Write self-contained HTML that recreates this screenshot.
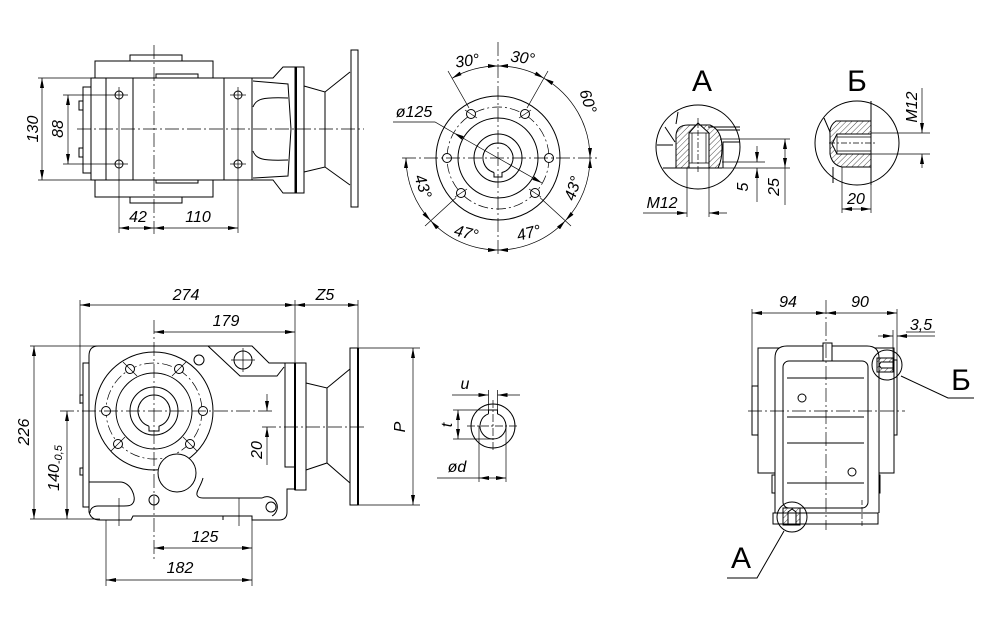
<!DOCTYPE html>
<html><head><meta charset="utf-8"><style>
html,body{margin:0;padding:0;background:#fff;}
svg{display:block;}
.t{font-family:"Liberation Sans",sans-serif;font-style:italic;font-size:16px;text-anchor:middle;fill:#000;}
.L{font-family:"Liberation Sans","DejaVu Sans",sans-serif;font-size:30px;text-anchor:middle;fill:#000;}
</style></head><body>
<svg width="990" height="624" viewBox="0 0 990 624" xmlns="http://www.w3.org/2000/svg">
<defs>
<marker id="a" viewBox="0 0 10 4" refX="10" refY="2" markerWidth="10" markerHeight="4" markerUnits="userSpaceOnUse" orient="auto-start-reverse"><path d="M0,0 L10,2 L0,4z" fill="#000"/></marker>
<pattern id="h" width="4" height="4" patternUnits="userSpaceOnUse" patternTransform="rotate(45)"><line x1="0" y1="0" x2="0" y2="4" stroke="#000" stroke-width="0.7"/></pattern>
</defs>
<rect width="990" height="624" fill="#fff"/>
<g fill="none" stroke="#000" stroke-width="1">

<!-- ============ TOP-LEFT VIEW ============ -->
<rect x="95" y="61" width="118" height="136"/>
<rect x="130" y="55" width="52" height="6"/>
<rect x="130" y="197" width="52" height="6"/>
<rect x="156" y="74" width="42" height="4"/>
<rect x="156" y="180" width="42" height="3"/>
<rect x="91" y="78" width="161" height="102" fill="#fff"/>
<line x1="106" y1="78" x2="106" y2="180"/>
<line x1="133" y1="78" x2="133" y2="180"/>
<line x1="224" y1="78" x2="224" y2="180"/>
<rect x="83" y="87" width="8" height="86"/>
<rect x="79" y="101" width="4" height="9"/>
<rect x="79" y="148" width="4" height="9"/>
<polyline points="252,78 273,78 283,67 295,67"/>
<polyline points="252,180 273,180 283,193 295,193"/>
<path d="M253,81 L288,84 L291,129 L288,176 L253,178"/>
<path d="M253,107 C256,99 262,97 288,98"/>
<path d="M253,151 C256,159 262,161 288,160"/>
<rect x="295" y="67" width="9" height="126"/>
<line x1="296" y1="67" x2="296" y2="193" stroke-width="2"/>
<polyline points="304,86 325,92 350,72"/>
<polyline points="304,172 325,167 350,185"/>
<line x1="325" y1="92" x2="325" y2="167"/>
<rect x="351" y="50" width="7" height="157"/>
<circle cx="119" cy="95" r="4"/><circle cx="119" cy="164" r="4"/>
<circle cx="238" cy="95" r="4"/><circle cx="238" cy="164" r="4"/>
<g stroke-width="0.7">
<line x1="63" y1="95" x2="128" y2="95"/><line x1="63" y1="164" x2="128" y2="164"/>
<line x1="230" y1="95" x2="246" y2="95"/><line x1="230" y1="164" x2="246" y2="164"/>
<line x1="119" y1="87" x2="119" y2="233"/><line x1="238" y1="87" x2="238" y2="233"/>
<line x1="38" y1="78" x2="91" y2="78"/><line x1="38" y1="180" x2="91" y2="180"/>
<line x1="42" y1="78" x2="42" y2="180" marker-start="url(#a)" marker-end="url(#a)"/>
<line x1="68" y1="95" x2="68" y2="164" marker-start="url(#a)" marker-end="url(#a)"/>
<line x1="119" y1="228" x2="154" y2="228" marker-start="url(#a)" marker-end="url(#a)"/>
<line x1="154" y1="228" x2="238" y2="228" marker-start="url(#a)" marker-end="url(#a)"/>
<line x1="154" y1="45" x2="154" y2="234" stroke-dasharray="14,3,2,3"/>
<line x1="77" y1="129" x2="364" y2="129" stroke-dasharray="14,3,2,3"/>
</g>

<!-- ============ CIRCLE VIEW ============ -->
<circle cx="498" cy="158" r="62"/>
<circle cx="498" cy="158" r="51" stroke-width="0.7" stroke-dasharray="10,3,2,3"/>
<circle cx="498" cy="158" r="40"/>
<circle cx="498" cy="158" r="24"/>
<path d="M494,172.5 L494,177 L502,177 L502,172.5 A15,15 0 1 0 494,172.5"/>
<g fill="#fff">
<circle cx="471" cy="114" r="4.5"/><circle cx="525" cy="114" r="4.5"/>
<circle cx="447" cy="158" r="4.5"/><circle cx="549" cy="158" r="4.5"/>
<circle cx="461" cy="193" r="4.5"/><circle cx="535" cy="193" r="4.5"/>
</g>
<g stroke-width="0.7">
<line x1="402" y1="158" x2="598" y2="158" stroke-dasharray="14,3,2,3"/>
<line x1="498" y1="42" x2="498" y2="256" stroke-dasharray="14,3,2,3"/>
<line x1="469" y1="108" x2="448" y2="71"/>
<line x1="527" y1="108" x2="548" y2="71"/>
<line x1="540" y1="197.6" x2="571" y2="226"/>
<line x1="456" y1="197.6" x2="425" y2="226"/>
<line x1="465" y1="110" x2="477" y2="118"/><line x1="519" y1="118" x2="531" y2="110"/>
<line x1="455" y1="197" x2="467" y2="189"/><line x1="529" y1="189" x2="541" y2="197"/>
<path d="M452,78.3 A92,92 0 0 1 498,66" marker-start="url(#a)" marker-end="url(#a)"/>
<path d="M498,66 A92,92 0 0 1 544,78.3" marker-start="url(#a)" marker-end="url(#a)"/>
<path d="M544,78.3 A92,92 0 0 1 590,158" marker-start="url(#a)" marker-end="url(#a)"/>
<path d="M590,158 A92,92 0 0 1 565.3,220.7" marker-start="url(#a)" marker-end="url(#a)"/>
<path d="M565.3,220.7 A92,92 0 0 1 498,250" marker-start="url(#a)" marker-end="url(#a)"/>
<path d="M498,250 A92,92 0 0 1 430.7,220.7" marker-start="url(#a)" marker-end="url(#a)"/>
<path d="M430.7,220.7 A92,92 0 0 1 406,158" marker-start="url(#a)" marker-end="url(#a)"/>
<polyline points="393,122 435,122 454,133"/>
<line x1="454" y1="133" x2="542" y2="183" marker-start="url(#a)" marker-end="url(#a)"/>
</g>

<!-- ============ DETAIL A ============ -->
<circle cx="698" cy="147" r="42"/>
<path d="M676,168 L676,135 Q677,125 688,125 L710,125 Q722,130 722,148 Q722,160 718,168 Z M689,168 L689,133 L698,123 L709,133 L709,168 Z" fill="url(#h)" fill-rule="evenodd"/>
<line x1="692" y1="133" x2="692" y2="163" stroke-width="0.7"/>
<line x1="706" y1="133" x2="706" y2="163" stroke-width="0.7"/>
<line x1="689" y1="133" x2="709" y2="133" stroke-width="0.7"/>
<line x1="689" y1="163" x2="709" y2="163" stroke-width="0.7"/>
<polyline points="678,112 676,124"/>
<polyline points="665,127 675,142"/>
<line x1="657" y1="145" x2="673" y2="145"/>
<line x1="708" y1="127" x2="740" y2="127"/>
<line x1="717" y1="130" x2="740" y2="130"/>
<polyline points="723,168 723,142 740,142"/>
<line x1="663" y1="168" x2="722" y2="168"/>
<g stroke-width="0.7">
<line x1="698" y1="118" x2="698" y2="172" stroke-dasharray="6,2,2,2"/>
<line x1="720" y1="139" x2="790" y2="139"/>
<line x1="722" y1="168" x2="790" y2="168"/>
<line x1="722" y1="162" x2="765" y2="162"/>
<line x1="687" y1="168" x2="687" y2="217"/>
<line x1="709" y1="168" x2="709" y2="217"/>
<line x1="643" y1="213" x2="687" y2="213" marker-end="url(#a)"/>
<line x1="727" y1="213" x2="709" y2="213" marker-end="url(#a)"/>
<line x1="757" y1="146" x2="757" y2="162" marker-end="url(#a)"/>
<line x1="757" y1="202" x2="757" y2="168" marker-end="url(#a)"/>
<line x1="785" y1="139" x2="785" y2="168" marker-start="url(#a)" marker-end="url(#a)"/>
<line x1="785" y1="168" x2="785" y2="205"/>
</g>

<!-- ============ DETAIL Б ============ -->
<circle cx="857" cy="143" r="42"/>
<path d="M871,121 L836,121 Q829,126 830,134 L830,154 Q832,165 842,167 L871,167 Z M871,134 L837,134 L832,144 L837,154 L871,154 Z" fill="url(#h)" fill-rule="evenodd"/>
<line x1="837" y1="137" x2="871" y2="137" stroke-width="0.7"/>
<line x1="837" y1="151" x2="871" y2="151" stroke-width="0.7"/>
<line x1="837" y1="134" x2="837" y2="154" stroke-width="0.7"/>
<polyline points="824,118 830,132"/>
<line x1="833" y1="167" x2="833" y2="183"/>
<line x1="871" y1="101" x2="871" y2="185"/>
<g stroke-width="0.7">
<line x1="829" y1="143" x2="877" y2="143" stroke-dasharray="6,2,2,2"/>
<line x1="871" y1="185" x2="871" y2="213"/>
<line x1="842" y1="167" x2="842" y2="213"/>
<line x1="842" y1="209" x2="871" y2="209" marker-start="url(#a)" marker-end="url(#a)"/>
<line x1="871" y1="133" x2="930" y2="133"/>
<line x1="871" y1="154" x2="930" y2="154"/>
<line x1="922" y1="88" x2="922" y2="133" marker-end="url(#a)"/>
<line x1="922" y1="168" x2="922" y2="154" marker-end="url(#a)"/>
</g>

<!-- ============ BOTTOM-LEFT VIEW ============ -->
<path d="M89,512 L89,356 Q89,346 98,346 L252,346 L269,363 L285,363"/>
<path d="M295,489 L287,489 L287,512 Q287,520 279,520 L252,520 L252,516 L223,516 L223,520 M223,516 L133,516 L131,520 L100,520 Q91,520 89,512"/>
<polyline points="208,346 240,376 277,376 284,367"/>
<circle cx="243" cy="360" r="9"/>
<g stroke-width="0.7"><line x1="231" y1="360" x2="255" y2="360"/><line x1="243" y1="348" x2="243" y2="372"/></g>
<rect x="83" y="363" width="6" height="144"/>
<rect x="80" y="395" width="3" height="8"/>
<rect x="80" y="468" width="3" height="7"/>
<path d="M89,482 L120,482 C131,482 137,498 133,503 C131,506 128,506 122,506 L98,506 C93,506 90,509 90,513"/>
<path d="M203,478 C201,486 196,491 197,495 Q198,498 203,498 L262,498 A10,10 0 1 1 272,516"/>
<circle cx="271" cy="507" r="5"/>
<rect x="285" y="363" width="10" height="104"/>
<line x1="295" y1="300" x2="295" y2="363" stroke-width="0.7"/>
<line x1="295" y1="363" x2="295" y2="490" stroke-width="2"/>
<rect x="295" y="363" width="11" height="127"/>
<polyline points="306,383 327,388 350,369"/>
<polyline points="306,470 327,463 350,483"/>
<line x1="327" y1="388" x2="327" y2="463"/>
<rect x="350" y="348" width="8" height="157"/>
<line x1="358" y1="348" x2="358" y2="505" stroke-width="2"/>
<circle cx="154" cy="411" r="59"/>
<circle cx="154" cy="411" r="48" stroke-width="0.7" stroke-dasharray="10,3,2,3"/>
<circle cx="154" cy="411" r="38"/>
<circle cx="154" cy="411" r="24"/>
<path d="M149,426.2 L149,431 L159,431 L159,426.2 A16,16 0 1 0 149,426.2"/>
<circle cx="177" cy="473" r="19" fill="#fff"/>
<circle cx="199" cy="360" r="5"/>
<circle cx="154" cy="500" r="5"/>
<g fill="#fff">
<circle cx="130" cy="369" r="4.5"/><circle cx="179" cy="369" r="4.5"/>
<circle cx="106" cy="411" r="4.5"/><circle cx="203" cy="411" r="4.5"/>
<circle cx="118" cy="444" r="4.5"/><circle cx="190" cy="444" r="4.5"/>
</g>
<g stroke-width="0.7">
<line x1="123" y1="362" x2="137" y2="376"/><line x1="172" y1="376" x2="186" y2="362"/>
<line x1="111" y1="451" x2="125" y2="437"/><line x1="183" y1="437" x2="197" y2="451"/>
<line x1="119" y1="498" x2="119" y2="526"/><line x1="239" y1="498" x2="239" y2="526"/>
<line x1="154" y1="320" x2="154" y2="560" stroke-dasharray="14,3,2,3"/>
<line x1="60" y1="411" x2="275" y2="411" stroke-dasharray="14,3,2,3"/>
<line x1="262" y1="427" x2="365" y2="427" stroke-dasharray="14,3,2,3"/>
<line x1="80" y1="300" x2="80" y2="404"/>
<line x1="358" y1="300" x2="358" y2="348"/>
<line x1="80" y1="305" x2="295" y2="305" marker-start="url(#a)" marker-end="url(#a)"/>
<line x1="295" y1="305" x2="358" y2="305" marker-start="url(#a)" marker-end="url(#a)"/>
<line x1="154" y1="332" x2="295" y2="332" marker-start="url(#a)" marker-end="url(#a)"/>
<line x1="30" y1="346" x2="97" y2="346"/>
<line x1="30" y1="519" x2="100" y2="519"/>
<line x1="34" y1="346" x2="34" y2="519" marker-start="url(#a)" marker-end="url(#a)"/>
<line x1="67" y1="411" x2="67" y2="519" marker-start="url(#a)" marker-end="url(#a)"/>
<line x1="267" y1="394" x2="267" y2="411" marker-end="url(#a)"/>
<line x1="267" y1="465" x2="267" y2="427" marker-end="url(#a)"/>
<line x1="358" y1="348" x2="420" y2="348"/>
<line x1="358" y1="505" x2="420" y2="505"/>
<line x1="413" y1="348" x2="413" y2="505" marker-start="url(#a)" marker-end="url(#a)"/>
<line x1="106" y1="520" x2="106" y2="586"/>
<line x1="252" y1="520" x2="252" y2="586"/>
<line x1="154" y1="548" x2="252" y2="548" marker-start="url(#a)" marker-end="url(#a)"/>
<line x1="106" y1="580" x2="252" y2="580" marker-start="url(#a)" marker-end="url(#a)"/>
</g>

<!-- ============ KEY VIEW ============ -->
<circle cx="493" cy="426" r="22"/>
<path d="M488.5,413.8 L488.5,410 L497.5,410 L497.5,413.8 A13,13 0 1 1 488.5,413.8"/>
<g stroke-width="0.7">
<line x1="467" y1="426" x2="519" y2="426" stroke-dasharray="8,2,2,2"/>
<line x1="493" y1="400" x2="493" y2="452" stroke-dasharray="8,2,2,2"/>
<line x1="488.5" y1="410" x2="488.5" y2="390"/>
<line x1="497.5" y1="410" x2="497.5" y2="390"/>
<line x1="452" y1="395" x2="488.5" y2="395" marker-end="url(#a)"/>
<line x1="520" y1="395" x2="497.5" y2="395" marker-end="url(#a)"/>
<line x1="453" y1="410" x2="488" y2="410"/>
<line x1="453" y1="439" x2="493" y2="439"/>
<line x1="458" y1="410" x2="458" y2="439" marker-start="url(#a)" marker-end="url(#a)"/>
<line x1="479" y1="426" x2="479" y2="482"/>
<line x1="506" y1="426" x2="506" y2="482"/>
<line x1="437" y1="478" x2="479" y2="478"/>
<line x1="479" y1="478" x2="506" y2="478" marker-start="url(#a)" marker-end="url(#a)"/>
</g>

<!-- ============ RIGHT VIEW ============ -->
<rect x="758" y="348" width="136" height="125"/>
<rect x="752" y="386" width="6" height="49"/>
<rect x="894" y="360" width="3" height="75"/>
<rect x="772" y="475" width="3" height="18"/>
<rect x="877" y="475" width="3" height="18"/>
<path d="M775,513 L775,358 Q775,346 787,346 L867,346 Q879,346 879,358 L879,513" fill="#fff"/>
<rect x="783" y="361" width="85" height="147" rx="6"/>
<rect x="773" y="513" width="105" height="11"/>
<rect x="823" y="343" width="9" height="18" fill="#fff"/>
<line x1="787" y1="378" x2="864" y2="378"/>
<line x1="787" y1="417" x2="864" y2="417"/>
<line x1="787" y1="443" x2="864" y2="443"/>
<line x1="787" y1="483" x2="864" y2="483"/>
<circle cx="802" cy="398" r="4"/>
<circle cx="852" cy="472" r="4"/>
<path d="M877,358 L893,358 L893,372 L877,372 Z M893,362 L881,362 L879,365 L881,368 L893,368 Z" fill="url(#h)" fill-rule="evenodd"/>
<path d="M783,508 L800,508 L800,525 L783,525 Z M788,525 L788,512 L792,509 L796,512 L796,525 Z" fill="url(#h)" fill-rule="evenodd"/>
<circle cx="887" cy="365" r="15"/>
<circle cx="792" cy="517" r="15"/>
<g stroke-width="0.7">
<line x1="826" y1="300" x2="826" y2="530" stroke-dasharray="14,3,2,3"/>
<line x1="748" y1="411" x2="905" y2="411" stroke-dasharray="14,3,2,3"/>
<line x1="862" y1="500" x2="862" y2="526" stroke-dasharray="5,2"/>
<line x1="752" y1="309" x2="752" y2="386"/>
<line x1="897" y1="309" x2="897" y2="360"/>
<line x1="893" y1="330" x2="893" y2="358"/>
<line x1="752" y1="313" x2="826" y2="313" marker-start="url(#a)" marker-end="url(#a)"/>
<line x1="826" y1="313" x2="897" y2="313" marker-start="url(#a)" marker-end="url(#a)"/>
<line x1="878" y1="336" x2="893" y2="336" marker-end="url(#a)"/>
<line x1="935" y1="336" x2="897" y2="336" marker-end="url(#a)"/>
<line x1="906" y1="332" x2="935" y2="332"/>
</g>
<polyline points="901,376 948,398 974,398"/>
<polyline points="784,531 757,578 727,578"/>
</g>

<!-- ============ TEXT ============ -->
<text class="t" transform="translate(38,129) rotate(-90)">130</text>
<text class="t" transform="translate(63,129) rotate(-90)">88</text>
<text class="t" x="138" y="222">42</text>
<text class="t" x="198" y="222">110</text>

<text class="t" x="414" y="117">ø125</text>
<text class="t" transform="translate(468,66) rotate(-8)">30°</text>
<text class="t" transform="translate(522,63) rotate(8)">30°</text>
<text class="t" transform="translate(583,103) rotate(72)">60°</text>
<text class="t" transform="translate(418,188) rotate(72)">43°</text>
<text class="t" transform="translate(578,190) rotate(-72)">43°</text>
<text class="t" transform="translate(465,238) rotate(14)">47°</text>
<text class="t" transform="translate(530,238) rotate(-14)">47°</text>

<text class="L" x="702" y="91">А</text>
<text class="L" x="857" y="91">Б</text>
<text class="t" x="662" y="208">M12</text>
<text class="t" transform="translate(748,187) rotate(-90)">5</text>
<text class="t" transform="translate(779,187) rotate(-90)">25</text>
<text class="t" x="856" y="204">20</text>
<text class="t" transform="translate(917,107) rotate(-90)">M12</text>

<text class="t" x="186" y="300">274</text>
<text class="t" x="325" y="300">Z5</text>
<text class="t" x="226" y="326">179</text>
<text class="t" transform="translate(29,432) rotate(-90)">226</text>
<text class="t" transform="translate(59,468) rotate(-90)">140<tspan font-size="11" dy="3">-0,5</tspan></text>
<text class="t" transform="translate(262,450) rotate(-90)">20</text>
<text class="t" x="205" y="542">125</text>
<text class="t" x="180" y="573">182</text>
<text class="t" transform="translate(405,427) rotate(-90)">P</text>
<text class="t" x="465" y="389">u</text>
<text class="t" transform="translate(452,425) rotate(-90)">t</text>
<text class="t" x="457" y="472">ød</text>

<text class="t" x="788" y="307">94</text>
<text class="t" x="860" y="307">90</text>
<text class="t" x="921" y="330">3,5</text>
<text class="L" x="961" y="390" font-size="28">Б</text>
<text class="L" x="741" y="568" font-size="28">А</text>
</svg>
</body></html>
